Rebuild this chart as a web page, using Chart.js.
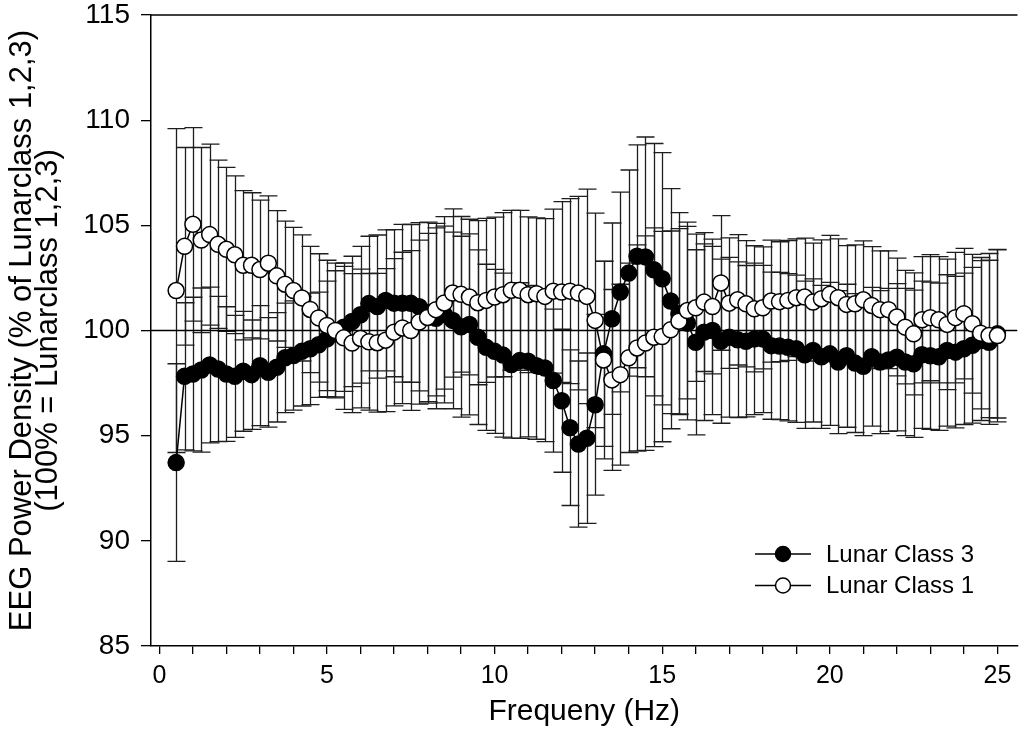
<!DOCTYPE html>
<html>
<head>
<meta charset="utf-8">
<script src="https://cdn.jsdelivr.net/npm/chart.js@4.4.0/dist/chart.umd.min.js"></script>
<style>
  html, body { margin: 0; padding: 0; background: #fff; }
  #wrap { width: 1027px; height: 733px; }
</style>
</head>
<body>
<div id="wrap"><canvas id="eegChart" width="1027" height="733"></canvas></div>
<script>
// --- Data ---
const freqHz = [
  0.5, 0.75, 1, 1.25, 1.5, 1.75, 2, 2.25, 2.5, 2.75,
  3, 3.25, 3.5, 3.75, 4, 4.25, 4.5, 4.75, 5, 5.25,
  5.5, 5.75, 6, 6.25, 6.5, 6.75, 7, 7.25, 7.5, 7.75,
  8, 8.25, 8.5, 8.75, 9, 9.25, 9.5, 9.75, 10, 10.25,
  10.5, 10.75, 11, 11.25, 11.5, 11.75, 12, 12.25, 12.5, 12.75,
  13, 13.25, 13.5, 13.75, 14, 14.25, 14.5, 14.75, 15, 15.25,
  15.5, 15.75, 16, 16.25, 16.5, 16.75, 17, 17.25, 17.5, 17.75,
  18, 18.25, 18.5, 18.75, 19, 19.25, 19.5, 19.75, 20, 20.25,
  20.5, 20.75, 21, 21.25, 21.5, 21.75, 22, 22.25, 22.5, 22.75,
  23, 23.25, 23.5, 23.75, 24, 24.25, 24.5, 24.75, 25
];

// Lunar Class 3 (filled circles)
const lunar3 = [
  93.72, 97.82, 97.93, 98.12, 98.36, 98.17, 97.93, 97.82, 98.06, 97.90,
  98.33, 98.01, 98.25, 98.70, 98.81, 99.01, 99.13, 99.32, 99.60, 99.84,
  100.16, 100.43, 100.75, 101.28, 101.14, 101.43, 101.30, 101.30, 101.29, 101.13,
  100.85, 100.58, 100.76, 100.48, 100.18, 100.29, 99.68, 99.20, 99.01, 98.83,
  98.38, 98.57, 98.54, 98.33, 98.22, 97.62, 96.66, 95.38, 94.60, 94.88,
  96.47, 98.89, 100.56, 101.83, 102.73, 103.53, 103.50, 102.89, 102.46, 101.40,
  100.80, 100.35, 99.44, 99.92, 100.00, 99.49, 99.68, 99.56, 99.49, 99.60,
  99.60, 99.28, 99.26, 99.20, 99.13, 98.85, 99.05, 98.75, 98.89, 98.50,
  98.80, 98.45, 98.30, 98.75, 98.50, 98.60, 98.73, 98.50, 98.42, 98.85,
  98.80, 98.75, 99.05, 98.97, 99.13, 99.30, 99.52, 99.44, 99.84
];
const lunar3Err = [
  4.7, 3.5, 3.65, 3.9, 3.7, 3.45, 3.2, 2.9, 2.85, 2.6,
  2.85, 2.6, 2.6, 2.6, 2.6, 2.6, 2.65, 2.5, 2.75, 3.0,
  3.05, 3.1, 3.25, 3.2, 3.4, 3.35, 3.5, 3.75, 3.75, 4.0,
  4.3, 4.3, 4.2, 4.2, 4.3, 4.3, 4.15, 3.95, 3.9, 3.9,
  3.5, 3.7, 3.6, 3.5, 3.5, 3.4, 3.4, 3.7, 3.95, 4.05,
  4.3, 4.4, 4.55, 4.75, 4.9, 5.3, 5.7, 6.0, 6.0, 5.35,
  4.8, 4.6, 4.4, 4.2, 4.0, 3.9, 3.8, 3.7, 3.6, 3.6,
  3.5, 3.5, 3.5, 3.5, 3.5, 3.5, 3.4, 3.4, 3.4, 3.4,
  3.4, 3.3, 3.3, 3.3, 3.4, 3.4, 3.5, 3.5, 3.5, 3.5,
  3.5, 3.5, 3.6, 3.6, 3.6, 3.7, 3.8, 3.9, 4.0
];

// Lunar Class 1 (open circles)
const lunar1 = [
  101.90, 104.00, 105.05, 104.30, 104.56, 104.10, 103.86, 103.60, 103.10, 103.10,
  102.90, 103.20, 102.60, 102.20, 101.90, 101.55, 101.00, 100.60, 100.24, 100.00,
  99.65, 99.40, 99.62, 99.46, 99.42, 99.54, 99.92, 100.12, 100.00, 100.40,
  100.62, 100.99, 101.31, 101.78, 101.72, 101.59, 101.32, 101.43, 101.59, 101.70,
  101.91, 101.91, 101.70, 101.75, 101.62, 101.87, 101.83, 101.87, 101.78, 101.62,
  100.48, 98.60, 97.65, 97.90, 98.70, 99.17, 99.40, 99.68, 99.71, 100.03,
  100.44, 100.95, 101.08, 101.35, 101.14, 102.26, 101.30, 101.46, 101.27, 101.03,
  101.08, 101.40, 101.37, 101.43, 101.56, 101.59, 101.35, 101.51, 101.72, 101.56,
  101.24, 101.27, 101.46, 101.19, 100.99, 100.99, 100.64, 100.16, 99.84, 100.51,
  100.61, 100.51, 100.29, 100.61, 100.80, 100.32, 99.87, 99.76, 99.76
];
const lunar1Err = [
  7.7, 4.7, 4.6, 4.4, 4.3, 4.0, 3.9, 3.75, 3.55, 3.45,
  3.3, 3.2, 3.1, 3.0, 3.0, 3.0, 3.0, 3.05, 3.1, 3.2,
  3.4, 3.3, 3.3, 3.25, 3.3, 3.4, 3.5, 3.6, 3.8, 3.9,
  4.0, 4.1, 4.1, 4.0, 3.7, 3.7, 3.9, 3.9, 3.8, 3.9,
  3.8, 3.8, 3.7, 3.6, 3.7, 3.9, 4.3, 4.4, 4.6, 5.1,
  5.1, 4.7, 4.3, 4.3, 4.5, 4.9, 5.1, 5.2, 5.0, 4.7,
  4.4, 4.2, 3.5, 3.3, 3.2, 3.2, 3.1, 3.1, 3.0, 3.0,
  2.9, 2.9, 2.85, 2.85, 2.8, 2.8, 2.8, 2.8, 2.8, 2.8,
  2.8, 2.8, 2.8, 2.8, 2.8, 2.8, 2.8, 2.7, 2.9, 3.0,
  3.0, 3.0, 3.1, 3.1, 3.1, 3.3, 3.6, 3.9, 4.1
];

const xTickValues = [0, 1, 2, 3, 4, 5, 6, 7, 8, 9, 10, 11, 12, 13, 14, 15, 16, 17, 18, 19, 20, 21, 22, 23, 24, 25];
const xLabelEvery = 5;
const yTickValues = [85, 90, 95, 100, 105, 110, 115];
const referenceLevel = 100;

const FONT = "'Liberation Sans', Arial, sans-serif";

function toPoints(xs, ys) {
  return xs.map((x, i) => ({ x: x, y: ys[i] }));
}

// --- Plugins ---
// error bars + 100% line, drawn under the markers
const errorBarPlugin = {
  id: 'errorBars',
  beforeDatasetsDraw(chart) {
    const { ctx, chartArea, scales: { x, y } } = chart;
    ctx.save();
    ctx.beginPath();
    ctx.rect(chartArea.left, chartArea.top, chartArea.right - chartArea.left, chartArea.bottom - chartArea.top);
    ctx.clip();

    ctx.strokeStyle = '#1e1e1e';
    ctx.lineWidth = 1.3;
    const cap = 9;
    chart.data.datasets.forEach(ds => {
      ds.data.forEach((pt, i) => {
        const e = ds.errors[i];
        const px = Math.round(x.getPixelForValue(pt.x)) + 0.5;
        const top = y.getPixelForValue(pt.y + e);
        const bot = y.getPixelForValue(pt.y - e);
        ctx.beginPath();
        ctx.moveTo(px, top);
        ctx.lineTo(px, bot);
        ctx.moveTo(px - cap, top);
        ctx.lineTo(px + cap, top);
        ctx.moveTo(px - cap, bot);
        ctx.lineTo(px + cap, bot);
        ctx.stroke();
      });
    });

    // horizontal line at 100 %
    const y100 = y.getPixelForValue(referenceLevel);
    ctx.strokeStyle = '#000';
    ctx.lineWidth = 1.5;
    ctx.beginPath();
    ctx.moveTo(chartArea.left, y100);
    ctx.lineTo(chartArea.right, y100);
    ctx.stroke();
    ctx.restore();
  }
};

// top frame line and the legend box
const frameLegendPlugin = {
  id: 'frameLegend',
  afterDraw(chart) {
    const { ctx, chartArea } = chart;
    ctx.save();
    ctx.strokeStyle = '#000';
    ctx.lineWidth = 1.5;
    ctx.beginPath();
    ctx.moveTo(chartArea.left, chartArea.top);
    ctx.lineTo(chartArea.right, chartArea.top);
    ctx.stroke();

    const rows = [
      { ds: chart.data.datasets[1], y: 554 },
      { ds: chart.data.datasets[0], y: 585.5 }
    ];
    rows.forEach(r => {
      ctx.strokeStyle = '#000';
      ctx.lineWidth = 1.5;
      ctx.beginPath();
      ctx.moveTo(755, r.y);
      ctx.lineTo(811, r.y);
      ctx.stroke();
      ctx.beginPath();
      ctx.arc(783, r.y, 7.5, 0, Math.PI * 2);
      ctx.fillStyle = r.ds.pointBackgroundColor;
      ctx.fill();
      ctx.stroke();
      ctx.fillStyle = '#000';
      ctx.font = '24px ' + FONT;
      ctx.textAlign = 'left';
      ctx.textBaseline = 'middle';
      ctx.fillText(r.ds.label, 826, r.y + 1);
    });
    ctx.restore();
  }
};

// --- Chart ---
const ctx = document.getElementById('eegChart').getContext('2d');
const eegChart = new Chart(ctx, {
  type: 'line',
  data: {
    datasets: [
      {
        label: 'Lunar Class 1',
        data: toPoints(freqHz, lunar1),
        errors: lunar1Err,
        borderColor: '#000',
        borderWidth: 1.5,
        pointRadius: 8,
        pointBackgroundColor: '#fff',
        pointBorderColor: '#000',
        pointBorderWidth: 1.5,
        tension: 0,
        order: 0
      },
      {
        label: 'Lunar Class 3',
        data: toPoints(freqHz, lunar3),
        errors: lunar3Err,
        borderColor: '#000',
        borderWidth: 1.5,
        pointRadius: 8,
        pointBackgroundColor: '#000',
        pointBorderColor: '#000',
        pointBorderWidth: 1.5,
        tension: 0,
        order: 1
      }
    ]
  },
  options: {
    responsive: false,
    animation: false,
    devicePixelRatio: 1,
    layout: { padding: { top: 15, right: 0, left: 0, bottom: 0 } },
    plugins: {
      legend: { display: false },
      tooltip: { enabled: false }
    },
    scales: {
      x: {
        type: 'linear',
        min: -0.25,
        max: 25.6,
        afterBuildTicks: axis => { axis.ticks = xTickValues.map(v => ({ value: v })); },
        afterFit: axis => {
          axis.height = 87;
          axis.paddingLeft = 0;
          axis.paddingRight = 0;
        },
        ticks: {
          color: '#000',
          font: { family: FONT, size: 25 },
          padding: 7,
          maxRotation: 0,
          autoSkip: false,
          callback: v => (v % xLabelEvery === 0 ? String(v) : '')
        },
        grid: { drawOnChartArea: false, drawTicks: true, tickLength: 8, color: '#000', lineWidth: 1.3 },
        border: { display: true, color: '#000', width: 1.5 },
        title: {
          display: true,
          text: 'Frequeny (Hz)',
          color: '#000',
          font: { family: FONT, size: 30, lineHeight: 1.0 },
          padding: { top: 0, bottom: 6 }
        }
      },
      y: {
        type: 'linear',
        min: 85,
        max: 115,
        afterBuildTicks: axis => { axis.ticks = yTickValues.map(v => ({ value: v })); },
        afterFit: axis => {
          axis.width = 151;
          axis.paddingTop = 0;
          axis.paddingBottom = 0;
        },
        ticks: {
          color: '#000',
          font: { family: FONT, size: 28 },
          padding: 11
        },
        grid: { drawOnChartArea: false, drawTicks: true, tickLength: 10, color: '#000', lineWidth: 1.3 },
        border: { display: true, color: '#000', width: 1.5 },
        title: {
          display: true,
          text: ['EEG Power Density (% of Lunarclass 1,2,3)', '(100% = Lunarclass 1,2,3)'],
          color: '#000',
          font: { family: FONT, size: 31, lineHeight: 0.85 },
          padding: { top: 9, bottom: 0 }
        }
      }
    }
  },
  plugins: [errorBarPlugin, frameLegendPlugin]
});
</script>
</body>
</html>
